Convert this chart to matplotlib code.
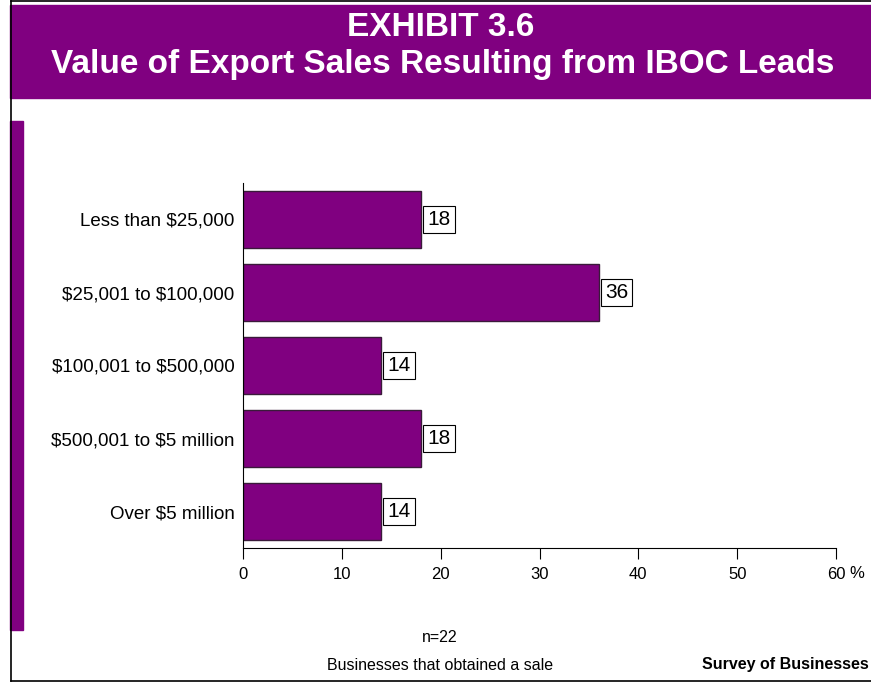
import matplotlib.pyplot as plt
from matplotlib.patches import Rectangle
from matplotlib.lines import Line2D

# data
categories = ["Less than \\$25,000", "\\$25,001 to \\$100,000", "\\$100,001 to \\$500,000",
              "\\$500,001 to \\$5 million", "Over \\$5 million"]
values = [18, 36, 14, 18, 14]
xticks = [0, 10, 20, 30, 40, 50, 60]

purple = "#800080"
plt.rcParams['font.family'] = ['Liberation Sans', 'DejaVu Sans']

fig = plt.figure(figsize=(8.71, 6.83), dpi=100)
W, H = 871, 683

def fx(px):
    return px / W

def fy(py):
    return 1 - py / H

# header band
fig.patches.append(Rectangle((fx(10), fy(98)), fx(871) - fx(10), fy(5) - fy(98),
                             transform=fig.transFigure, color=purple, zorder=0))
# left purple bar
fig.patches.append(Rectangle((fx(10), fy(630)), fx(23) - fx(10), fy(121) - fy(630),
                             transform=fig.transFigure, color=purple, zorder=0))
# frame lines
fig.lines.append(Line2D([fx(11), fx(11)], [fy(1), fy(681)], transform=fig.transFigure,
                        color="black", lw=1.2))
fig.lines.append(Line2D([fx(11), fx(871)], [fy(681), fy(681)], transform=fig.transFigure,
                        color="black", lw=1.2))
fig.lines.append(Line2D([fx(11), fx(871)], [fy(1), fy(1)], transform=fig.transFigure,
                        color="black", lw=1.2))

fig.text(fx(441), fy(27), "EXHIBIT 3.6", ha="center", va="center", color="white",
         fontsize=24, fontweight="bold")
fig.text(fx(443), fy(65), "Value of Export Sales Resulting from IBOC Leads", ha="center",
         va="center", color="white", fontsize=24, fontweight="bold")

ax = fig.add_axes([fx(243), fy(548), fx(836) - fx(243), fy(183) - fy(548)])
y = list(range(len(categories)))
ax.barh(y, values, height=0.79, color=purple, edgecolor="#3a1a3a", linewidth=1)
for yi, v in zip(y, values):
    ax.annotate(str(v), (v, yi), xytext=(4.5, 0), textcoords="offset points",
                ha="left", va="center", fontsize=15,
                bbox=dict(boxstyle="square,pad=0.2", fc="white", ec="black", lw=0.8))

ax.set_xlim(0, 60)
ax.set_ylim(4.5, -0.5)
ax.set_yticks(y)
ax.set_yticklabels(categories, fontsize=13.5)
ax.set_xticks(xticks)
ax.set_xticklabels([str(t) for t in xticks], fontsize=12)
ax.tick_params(axis="y", length=0, pad=6)
ax.tick_params(axis="x", length=8, width=0.8, direction="out", pad=6)
ax.spines["top"].set_visible(False)
ax.spines["right"].set_visible(False)
ax.spines["left"].set_linewidth(0.8)
ax.spines["bottom"].set_linewidth(0.8)
fig.text(fx(849), fy(573), "%", ha="left", va="center", fontsize=12)

fig.text(fx(440), fy(637), "n=22", ha="center", va="center", fontsize=11.5)
fig.text(fx(440), fy(665), "Businesses that obtained a sale", ha="center", va="center",
         fontsize=11.5)
fig.text(fx(869), fy(665), "Survey of Businesses", ha="right", va="center", fontsize=11.5,
         fontweight="bold")

fig.savefig("out.png", dpi=100)
